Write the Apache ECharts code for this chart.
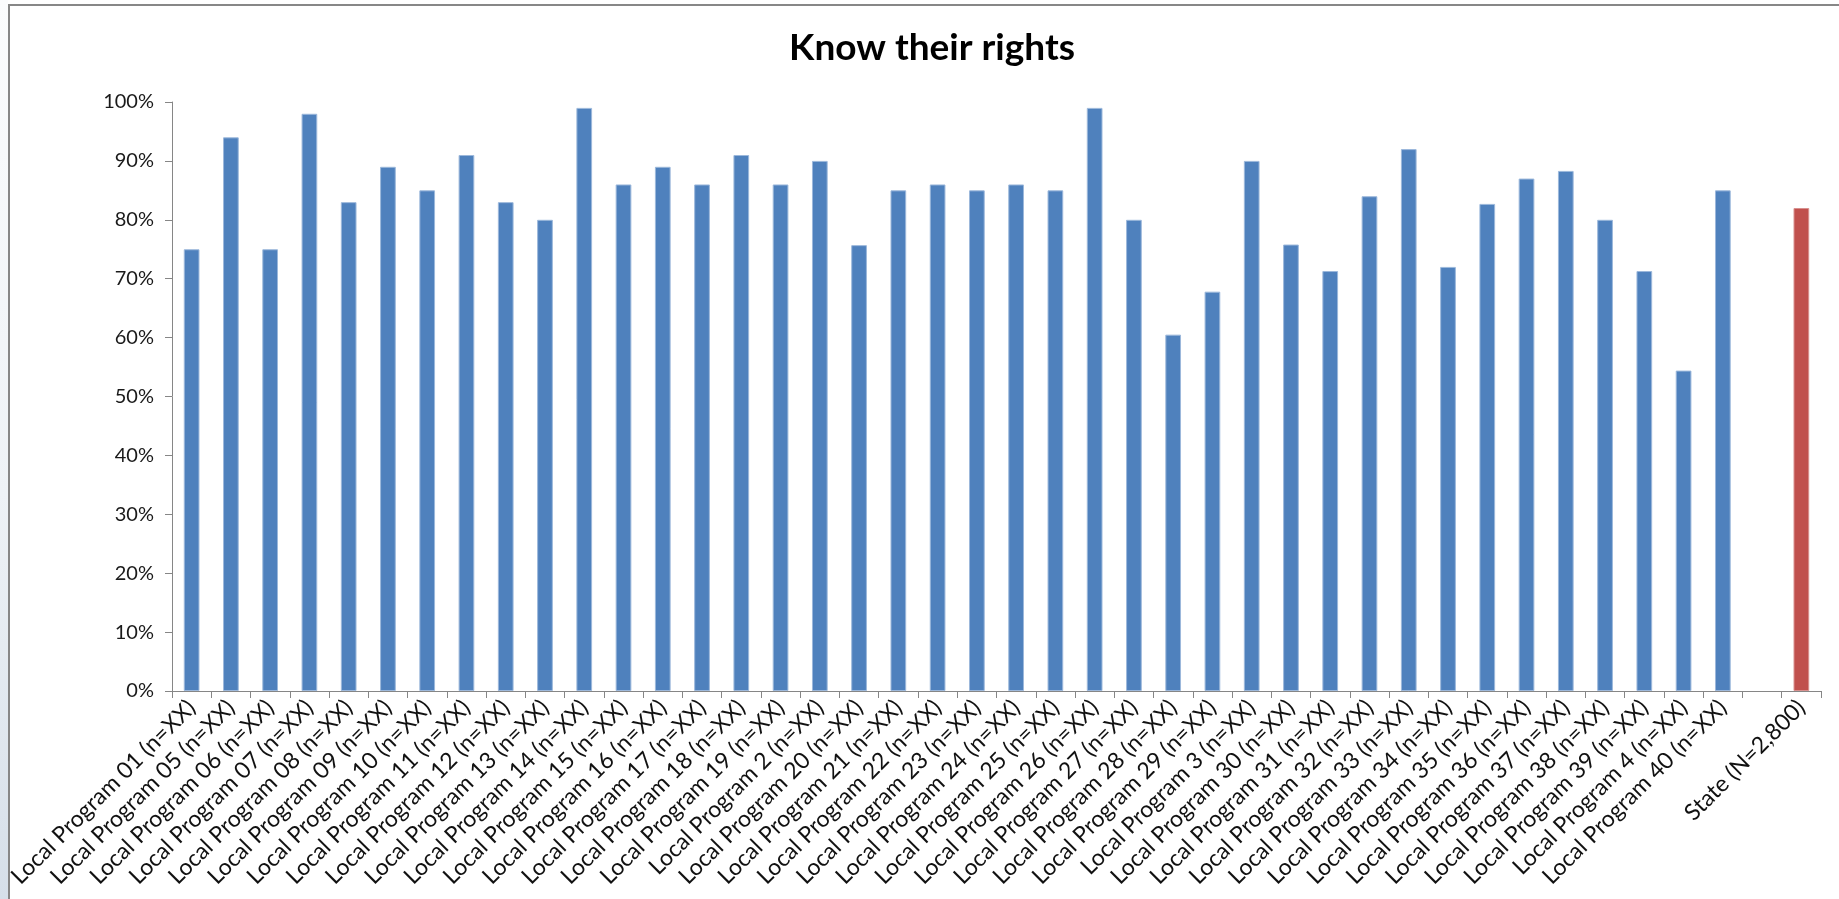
<!DOCTYPE html>
<html>
<head>
<meta charset="utf-8">
<title>Know their rights</title>
<script src="https://cdn.jsdelivr.net/npm/echarts@6/dist/echarts.min.js"></script>
<style>
  html, body { margin: 0; padding: 0; background: #ffffff; }
  #chart { width: 1839px; height: 899px; }
</style>
</head>
<body>
<div id="chart"></div>
<script>
// Share of respondents who know their rights, by local program (percent)
const programs = [
  'Local Program 01 (n=XX)', 'Local Program 05 (n=XX)', 'Local Program 06 (n=XX)',
  'Local Program 07 (n=XX)', 'Local Program 08 (n=XX)', 'Local Program 09 (n=XX)',
  'Local Program 10 (n=XX)', 'Local Program 11 (n=XX)', 'Local Program 12 (n=XX)',
  'Local Program 13 (n=XX)', 'Local Program 14 (n=XX)', 'Local Program 15 (n=XX)',
  'Local Program 16 (n=XX)', 'Local Program 17 (n=XX)', 'Local Program 18 (n=XX)',
  'Local Program 19 (n=XX)', 'Local Program 2 (n=XX)', 'Local Program 20 (n=XX)',
  'Local Program 21 (n=XX)', 'Local Program 22 (n=XX)', 'Local Program 23 (n=XX)',
  'Local Program 24 (n=XX)', 'Local Program 25 (n=XX)', 'Local Program 26 (n=XX)',
  'Local Program 27 (n=XX)', 'Local Program 28 (n=XX)', 'Local Program 29 (n=XX)',
  'Local Program 3 (n=XX)', 'Local Program 30 (n=XX)', 'Local Program 31 (n=XX)',
  'Local Program 32 (n=XX)', 'Local Program 33 (n=XX)', 'Local Program 34 (n=XX)',
  'Local Program 35 (n=XX)', 'Local Program 36 (n=XX)', 'Local Program 37 (n=XX)',
  'Local Program 38 (n=XX)', 'Local Program 39 (n=XX)', 'Local Program 4 (n=XX)',
  'Local Program 40 (n=XX)'
];
const programValues = [
  75, 94, 75, 98, 83, 89, 85, 91, 83, 80,
  99, 86, 89, 86, 91, 86, 90, 75.7, 85, 86,
  85, 86, 85, 99, 80, 60.5, 67.8, 90, 75.8, 71.3,
  84, 92, 72, 82.7, 87, 88.3, 80, 71.3, 54.4, 85
];
const stateLabel = 'State (N=2,800)';
const stateValue = 82;

const yTicks = { min: 0, max: 100, interval: 10 };

const blue = '#4F81BD';
const red = '#C0504D';
const font = 'Lato, "Open Sans", sans-serif';

// a blank slot separates the programs from the statewide bar
const categories = [...programs, '', stateLabel];
const seriesData = [
  ...programValues.map(v => ({ value: v })),
  '-',
  { value: stateValue, itemStyle: { color: red, borderColor: '#d8908e' } }
];

const chart = echarts.init(document.getElementById('chart'), null, { renderer: 'canvas' });

chart.setOption({
  backgroundColor: '#ffffff',
  animation: false,
  title: {
    text: 'Know their rights',
    left: 927,
    textAlign: 'center',
    top: 25,
    textStyle: { fontFamily: font, fontSize: 37, fontWeight: 'bold', color: '#000000' }
  },
  graphic: [
    {
      type: 'rect',
      shape: { x: 0, y: 0, width: 8, height: 899 },
      style: {
        fill: new echarts.graphic.LinearGradient(0, 0, 0, 1, [
          { offset: 0, color: '#fbfcfd' },
          { offset: 0.55, color: '#eef2f6' },
          { offset: 1, color: '#d6dfe9' }
        ])
      },
      silent: true
    },
    {
      type: 'rect',
      shape: { x: 9, y: 5, width: 1900, height: 1000 },
      style: { fill: 'none', stroke: '#878787', lineWidth: 2 },
      silent: true
    }
  ],
  grid: { left: 172, right: 18, top: 102, bottom: 208, containLabel: false },
  xAxis: {
    type: 'category',
    data: categories,
    boundaryGap: true,
    axisLine: { lineStyle: { color: '#868686', width: 1 } },
    axisTick: { show: true, length: 7, lineStyle: { color: '#868686' } },
    axisLabel: {
      interval: 0,
      rotate: 45,
      margin: 13,
      fontFamily: font,
      fontSize: 23,
      color: '#111111'
    },
    splitLine: { show: false }
  },
  yAxis: {
    type: 'value',
    min: yTicks.min,
    max: yTicks.max,
    interval: yTicks.interval,
    axisLine: { show: true, lineStyle: { color: '#868686', width: 1 } },
    axisTick: { show: true, length: 7, lineStyle: { color: '#868686' } },
    axisLabel: {
      formatter: '{value}%',
      margin: 18,
      fontFamily: font,
      fontSize: 20,
      color: '#1a1a1a'
    },
    splitLine: { show: false }
  },
  series: [
    {
      type: 'bar',
      data: seriesData,
      barWidth: '40%',
      itemStyle: { color: blue, borderColor: '#9cb8db', borderWidth: 1 }
    }
  ]
});
</script>
</body>
</html>
